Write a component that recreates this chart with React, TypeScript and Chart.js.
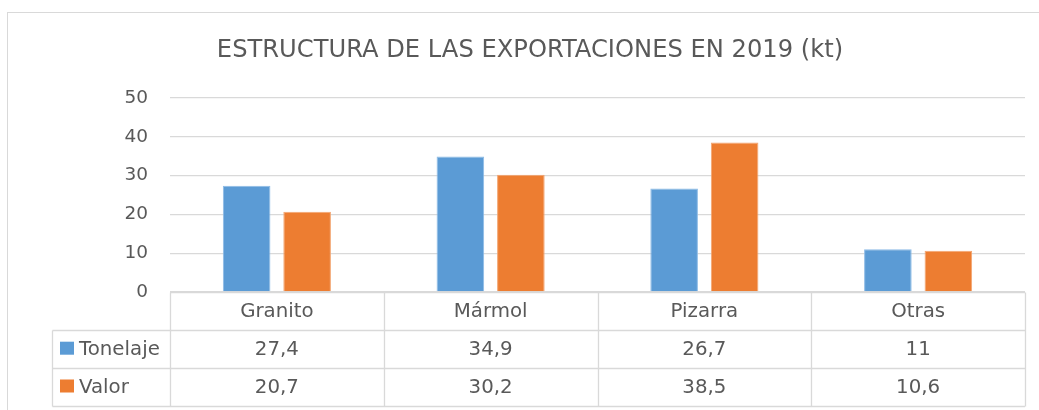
import React, { useEffect, useRef } from "react";
import { Chart, registerables } from "chart.js";

Chart.register(...registerables);

const title = "ESTRUCTURA DE LAS EXPORTACIONES EN 2019 (kt)";
const categories = ["Granito", "Mármol", "Pizarra", "Otras"];
const seriesNames = ["Tonelaje", "Valor"];
const tonelaje = [27.4, 34.9, 26.7, 11];
const valor = [20.7, 30.2, 38.5, 10.6];
const seriesColors = ["#5B9BD5", "#ED7D31"];
const seriesEdges = ["#8DBBE6", "#F3A570"];
const yMin = 0;
const yMax = 50;
const yStep = 10;

const TEXT = "#595959";
const LINE = "#d9d9d9";
const FONT = "'DejaVu Sans', Verdana, sans-serif";

const fmt = (v: number) => String(v).replace(".", ",");

const tablePlugin = {
  id: "dataTable",
  beforeDraw(chart: any) {
    const ctx = chart.ctx;
    ctx.save();
    ctx.strokeStyle = LINE;
    ctx.lineWidth = 1;
    ctx.strokeRect(7.5, 12.5, 1100, 500);
    ctx.fillStyle = TEXT;
    ctx.font = `24.2px ${FONT}`;
    ctx.textAlign = "center";
    ctx.textBaseline = "alphabetic";
    ctx.fillText(title, 530, 57);
    ctx.restore();
  },
  afterDraw(chart: any) {
    const ctx = chart.ctx;
    const xs = chart.scales.x;
    const ys = chart.scales.y;
    const top = Math.round(ys.getPixelForValue(0)) + 0.5;
    const left = chart.chartArea.left;
    const right = chart.chartArea.right;
    const n = categories.length;
    const colW = (right - left) / n;
    const rowH = 37.8;
    const legendLeft = 52.5;
    const series = [tonelaje, valor];
    ctx.save();
    ctx.strokeStyle = LINE;
    ctx.lineWidth = 1.3;
    ctx.beginPath();
    ctx.moveTo(left, top);
    ctx.lineTo(right, top);
    for (let r = 1; r <= series.length + 1; r++) {
      const yy = Math.round(top + r * rowH) + 0.5;
      ctx.moveTo(legendLeft, yy);
      ctx.lineTo(right, yy);
    }
    const bottom = Math.round(top + (series.length + 1) * rowH) + 0.5;
    for (let i = 0; i <= n; i++) {
      const xx = Math.round(left + i * colW) + 0.5;
      ctx.moveTo(xx, top);
      ctx.lineTo(xx, bottom);
    }
    ctx.moveTo(legendLeft, Math.round(top + rowH) + 0.5);
    ctx.lineTo(legendLeft, bottom);
    ctx.stroke();

    ctx.fillStyle = TEXT;
    ctx.font = `19.8px ${FONT}`;
    ctx.textAlign = "center";
    ctx.textBaseline = "middle";
    categories.forEach((c, i) => {
      const cx = xs.getPixelForValue(i);
      ctx.fillText(c, cx, top + rowH / 2 + 0.5);
    });
    series.forEach((vals, s) => {
      const cy = top + rowH * (s + 1) + rowH / 2 + 0.5;
      ctx.textAlign = "center";
      ctx.fillStyle = TEXT;
      vals.forEach((v, i) => {
        ctx.fillText(fmt(v), xs.getPixelForValue(i), cy);
      });
      ctx.fillStyle = seriesColors[s];
      ctx.fillRect(60, cy - 8, 14, 13);
      ctx.fillStyle = TEXT;
      ctx.textAlign = "left";
      ctx.fillText(seriesNames[s], 79, cy);
    });
    ctx.restore();
  },
};

export default function App() {
  const ref = useRef<HTMLCanvasElement | null>(null);
  useEffect(() => {
    if (!ref.current) return;
    const chart = new Chart(ref.current, {
      type: "bar",
      data: {
        labels: categories,
        datasets: [
          {
            label: seriesNames[0],
            data: tonelaje,
            backgroundColor: seriesColors[0],
            borderColor: seriesEdges[0],
            borderWidth: 1,
            categoryPercentage: 0.566,
            barPercentage: 0.787,
          },
          {
            label: seriesNames[1],
            data: valor,
            backgroundColor: seriesColors[1],
            borderColor: seriesEdges[1],
            borderWidth: 1,
            categoryPercentage: 0.566,
            barPercentage: 0.787,
          },
        ],
      },
      options: {
        responsive: true,
        maintainAspectRatio: false,
        animation: false,
        layout: { padding: { top: 98, bottom: 118, left: 0, right: 14 } },
        plugins: {
          legend: { display: false },
          title: { display: false },
          tooltip: { enabled: false },
        },
        scales: {
          x: { display: false },
          y: {
            min: yMin,
            max: yMax,
            ticks: {
              stepSize: yStep,
              color: TEXT,
              font: { family: FONT, size: 18.5 },
              padding: 22,
            },
            grid: { color: LINE, lineWidth: 1.3, drawTicks: false },
            border: { display: false },
            afterFit: (s: any) => {
              s.width = 170;
            },
          },
        },
      },
      plugins: [tablePlugin],
    });
    return () => chart.destroy();
  }, []);
  return (
    <div style={{ position: "absolute", left: 0, top: 0, width: 1039, height: 410, background: "#fff" }}>
      <canvas ref={ref} />
    </div>
  );
}
